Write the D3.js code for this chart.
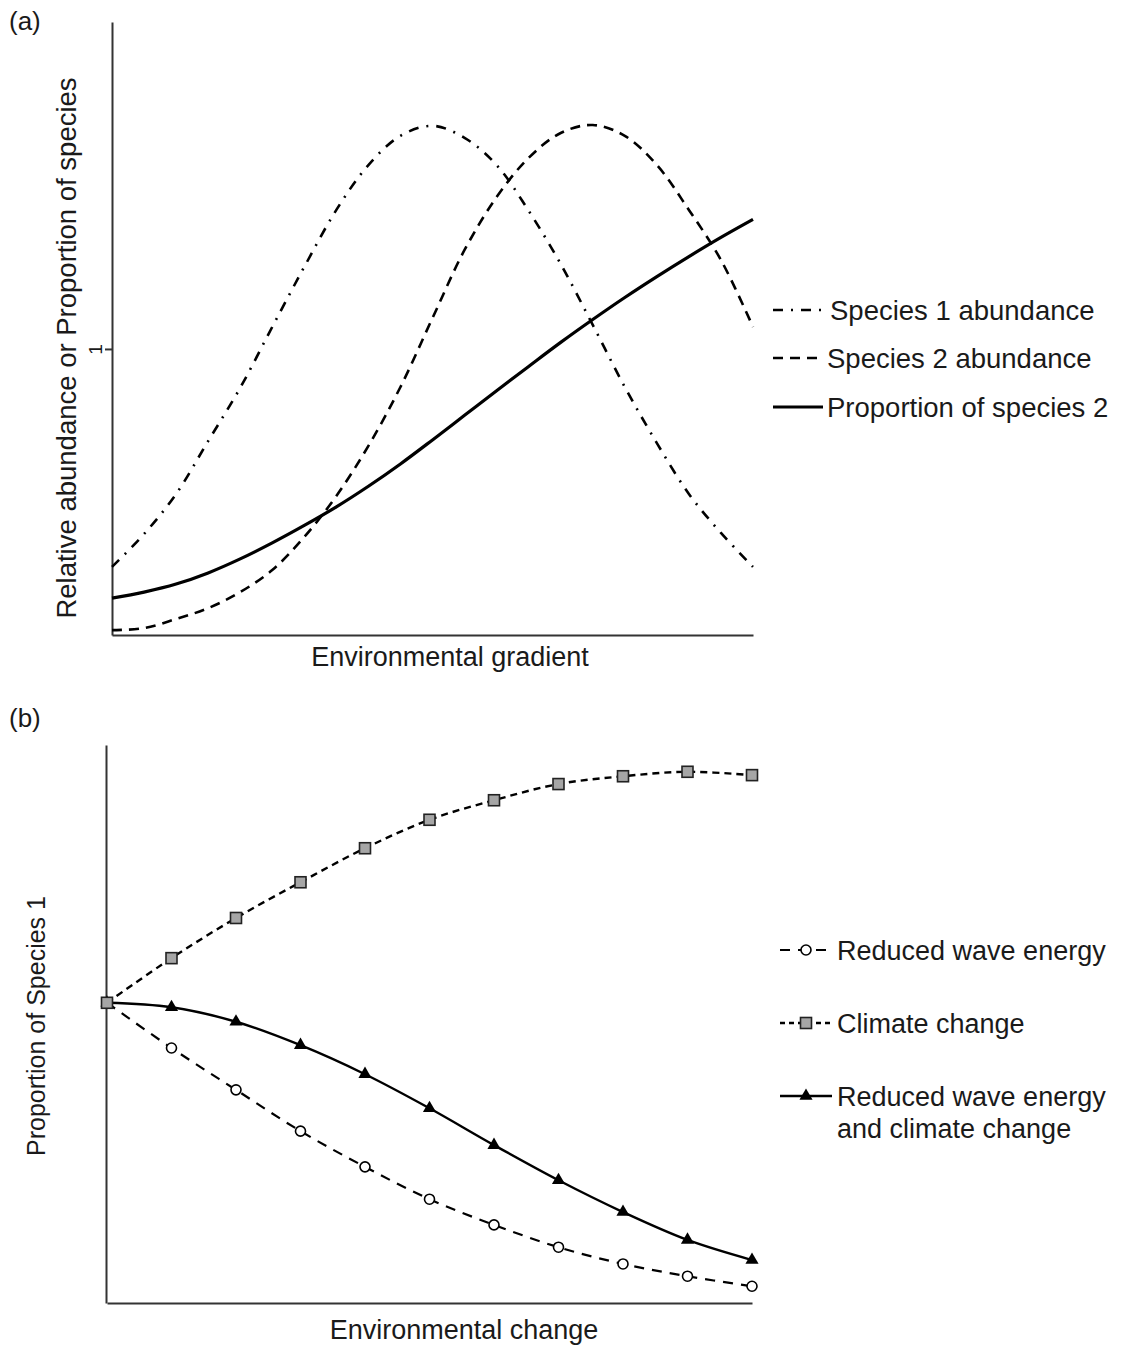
<!DOCTYPE html>
<html>
<head>
<meta charset="utf-8">
<script src="https://cdn.jsdelivr.net/npm/d3@7"></script>
<style>
  body { margin: 0; background: #fff; }
  svg text { font-family: "Liberation Sans", Arial, sans-serif; fill: #1a1a1a; }
</style>
</head>
<body>
<div id="chart"></div>
<script>
// panel (a): curves sampled along the gradient (0..1)
var gradX = [0, 0.05, 0.1, 0.15, 0.2, 0.25, 0.3, 0.35, 0.4, 0.45, 0.5,
             0.55, 0.6, 0.65, 0.7, 0.75, 0.8, 0.85, 0.9, 0.95, 1];
var species1 = [0.238, 0.353, 0.493, 0.678, 0.864, 1.077, 1.287, 1.486, 1.643, 1.745, 1.780,
                1.738, 1.643, 1.483, 1.297, 1.084, 0.867, 0.671, 0.493, 0.357, 0.238];
var species2 = [0.017, 0.024, 0.056, 0.094, 0.150, 0.227, 0.343, 0.486, 0.661, 0.867, 1.108,
                1.346, 1.531, 1.668, 1.755, 1.783, 1.745, 1.643, 1.486, 1.311, 1.077];
var propSp2 = [0.129, 0.150, 0.178, 0.217, 0.266, 0.322, 0.383, 0.448, 0.520, 0.598, 0.682,
               0.768, 0.854, 0.939, 1.023, 1.103, 1.180, 1.253, 1.323, 1.390, 1.453];
var yTicksA = [1];

// panel (b): 11 steps of environmental change
var steps = [0, 1, 2, 3, 4, 5, 6, 7, 8, 9, 10];
var reducedWave = [0.538, 0.457, 0.382, 0.308, 0.244, 0.186, 0.140, 0.100, 0.070, 0.048, 0.030];
var climate = [0.538, 0.618, 0.690, 0.754, 0.815, 0.866, 0.901, 0.930, 0.944, 0.952, 0.946];
var combined = [0.538, 0.530, 0.504, 0.462, 0.410, 0.349, 0.283, 0.220, 0.163, 0.113, 0.077];

var W = 1124, H = 1346;
var svg = d3.select("#chart").append("svg")
    .attr("width", W)
    .attr("height", H);

// ---------- (a) ----------
var xA = d3.scaleLinear().domain([0, 1]).range([112, 753]);
var yA = d3.scaleLinear().domain([0, 2.143]).range([635, 22]);

var gA = svg.append("g");

gA.append("g")
    .attr("transform", "translate(112,0)")
    .call(d3.axisLeft(yA).tickValues(yTicksA).tickSize(7).tickSizeOuter(0).tickFormat(d3.format("d")))
    .call(g => g.select(".domain").attr("stroke", "#333").attr("stroke-width", 2))
    .call(g => g.selectAll(".tick line").attr("stroke", "#333").attr("stroke-width", 2))
    .call(g => g.selectAll(".tick text")
        .style("font-size", "19px").attr("x", 0).attr("dy", 0)
        .attr("transform", "translate(-10,0) rotate(-90)")
        .attr("text-anchor", "middle"));

gA.append("g")
    .attr("transform", "translate(0,635)")
    .call(d3.axisBottom(xA).tickValues([]).tickSizeOuter(0))
    .call(g => g.select(".domain").attr("stroke", "#333").attr("stroke-width", 2));

var lineA = d3.line()
    .x((d, i) => xA(gradX[i]))
    .y(d => yA(d))
    .curve(d3.curveCatmullRom);

gA.append("path").datum(species1)
    .attr("d", lineA).attr("fill", "none").attr("stroke", "#000")
    .attr("stroke-width", 2.6).attr("stroke-dasharray", "10,8,2,8");
gA.append("path").datum(species2)
    .attr("d", lineA).attr("fill", "none").attr("stroke", "#000")
    .attr("stroke-width", 2.6).attr("stroke-dasharray", "10,7");
gA.append("path").datum(propSp2)
    .attr("d", lineA).attr("fill", "none").attr("stroke", "#000")
    .attr("stroke-width", 3.2);

gA.append("text").attr("x", 9).attr("y", 30).attr("font-size", 26).text("(a)");
gA.append("text").attr("x", 450).attr("y", 666).attr("font-size", 27)
    .attr("text-anchor", "middle").text("Environmental gradient");
gA.append("text").attr("transform", "translate(76,348) rotate(-90)").attr("font-size", 27.5)
    .attr("text-anchor", "middle").text("Relative abundance or Proportion of species");

var legA = [
  { label: "Species 1 abundance", dash: "10,8,2,8", w: 2.6, y: 310, tx: 830 },
  { label: "Species 2 abundance", dash: "10,7", w: 2.6, y: 358, tx: 827 },
  { label: "Proportion of species 2", dash: null, w: 3.2, y: 407, tx: 827 }
];
var la = gA.selectAll("g.lega").data(legA).enter().append("g").attr("class", "lega");
la.append("line")
    .attr("x1", 773).attr("x2", 823)
    .attr("y1", d => d.y).attr("y2", d => d.y)
    .attr("stroke", "#000").attr("stroke-width", d => d.w)
    .attr("stroke-dasharray", d => d.dash);
la.append("text")
    .attr("x", d => d.tx)
    .attr("y", d => d.y + 10).attr("font-size", 27.5)
    .text(d => d.label);

// ---------- (b) ----------
var xB = d3.scaleLinear().domain([0, 10]).range([107, 752]);
var yB = d3.scaleLinear().domain([0, 1]).range([1303, 745]);

var gB = svg.append("g");

gB.append("g")
    .attr("transform", "translate(106,0)")
    .call(d3.axisLeft(yB).tickValues([]).tickSizeOuter(0))
    .call(g => g.select(".domain").attr("stroke", "#333").attr("stroke-width", 2));
gB.append("g")
    .attr("transform", "translate(0,1303)")
    .call(d3.axisBottom(xB).tickValues([]).tickSizeOuter(0))
    .call(g => g.select(".domain").attr("stroke", "#333").attr("stroke-width", 2));

var lineB = d3.line()
    .x((d, i) => xB(steps[i]))
    .y(d => yB(d))
    .curve(d3.curveCatmullRom);

var seriesB = [
  { name: "Reduced wave energy", values: reducedWave, dash: "10,8", w: 2.2, marker: "circle" },
  { name: "Climate change", values: climate, dash: "7,5", w: 2.4, marker: "square" },
  { name: "combined", values: combined, dash: null, w: 2.4, marker: "triangle" }
];

function drawMarker(g, type, x, y) {
  if (type === "circle") {
    g.append("circle").attr("cx", x).attr("cy", y).attr("r", 5)
      .attr("fill", "#fff").attr("stroke", "#000").attr("stroke-width", 1.6);
  } else if (type === "square") {
    g.append("rect").attr("x", x - 5.5).attr("y", y - 5.5).attr("width", 11).attr("height", 11)
      .attr("fill", "#a6a6a6").attr("stroke", "#222").attr("stroke-width", 1.6);
  } else {
    g.append("path").attr("transform", "translate(" + x + "," + y + ")")
      .attr("d", d3.symbol().type(d3.symbolTriangle).size(75)).attr("fill", "#000");
  }
}

seriesB.forEach(function (s) {
  gB.append("path").datum(s.values)
    .attr("d", lineB).attr("fill", "none").attr("stroke", "#000")
    .attr("stroke-width", s.w).attr("stroke-dasharray", s.dash);
});
// markers on top; climate last so its square sits on the shared start point
[seriesB[0], seriesB[2], seriesB[1]].forEach(function (s) {
  s.values.forEach(function (v, i) {
    drawMarker(gB, s.marker, xB(steps[i]), yB(v));
  });
});

gB.append("text").attr("x", 9).attr("y", 727).attr("font-size", 26).text("(b)");
gB.append("text").attr("x", 464).attr("y", 1339).attr("font-size", 27)
    .attr("text-anchor", "middle").text("Environmental change");
gB.append("text").attr("transform", "translate(45,1026) rotate(-90)").attr("font-size", 25)
    .attr("text-anchor", "middle").text("Proportion of Species 1");

var legB = [
  { lines: ["Reduced wave energy"], dash: "10,8", w: 2.2, marker: "circle", y: 950 },
  { lines: ["Climate change"], dash: "5,4", w: 2.4, marker: "square", y: 1023 },
  { lines: ["Reduced wave energy", "and climate change"], dash: null, w: 2.4, marker: "triangle", y: 1096 }
];
legB.forEach(function (d) {
  gB.append("line").attr("x1", 780).attr("x2", 832).attr("y1", d.y).attr("y2", d.y)
    .attr("stroke", "#000").attr("stroke-width", d.w).attr("stroke-dasharray", d.dash);
  drawMarker(gB, d.marker, 806, d.y);
  var t = gB.append("text").attr("x", 837).attr("y", d.y + 10).attr("font-size", 27);
  d.lines.forEach(function (l, j) {
    t.append("tspan").attr("x", 837).attr("dy", j === 0 ? 0 : 32).text(l);
  });
});
</script>
</body>
</html>
